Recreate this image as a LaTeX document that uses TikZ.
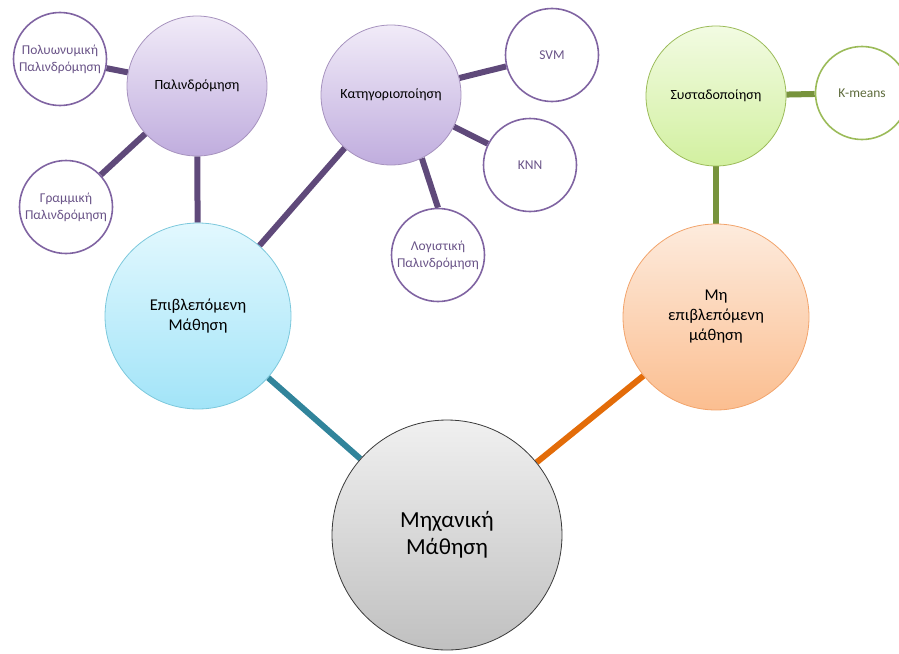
\documentclass[tikz,border=0pt]{standalone}
\usepackage{fontspec}
\setmainfont{Carlito}
\usetikzlibrary{shadings}
\pgfdeclarelayer{background}
\pgfsetlayers{background,main}

% colour scheme of the mind map
\definecolor{purpleline}{HTML}{5F497A}
\definecolor{purpleedge}{HTML}{8064A2}
\definecolor{purpletop}{HTML}{F1EBF8}
\definecolor{purplebot}{HTML}{C0ADDE}
\definecolor{tealline}{HTML}{31849B}
\definecolor{cyanedge}{HTML}{7CC8DC}
\definecolor{cyantop}{HTML}{E2F8FE}
\definecolor{cyanbot}{HTML}{A2E4F8}
\definecolor{orangeline}{HTML}{E36C09}
\definecolor{orangeedge}{HTML}{F2A46C}
\definecolor{orangetop}{HTML}{FDEBDD}
\definecolor{orangebot}{HTML}{FBBE90}
\definecolor{greenline}{HTML}{77933C}
\definecolor{greenedge}{HTML}{9BBB59}
\definecolor{greentop}{HTML}{F2FBE2}
\definecolor{greenbot}{HTML}{D2F0A0}
\definecolor{greytop}{HTML}{F0F0F0}
\definecolor{greybot}{HTML}{C0C0C0}
\definecolor{greyedge}{HTML}{3A3A3A}
\definecolor{leaftext}{HTML}{6A5488}
\definecolor{kmtext}{HTML}{5E6B3C}

\tikzset{
  bubble/.style={circle, align=center, inner sep=0pt, text=black},
  rootbubble/.style={bubble, minimum size=230pt, draw=greyedge, line width=0.8pt,
    top color=greytop, bottom color=greybot, font=\fontsize{23}{27}\selectfont},
  supbubble/.style={bubble, minimum size=186pt, draw=cyanedge, line width=0.8pt,
    top color=cyantop, bottom color=cyanbot, font=\fontsize{16.5}{20}\selectfont},
  unsupbubble/.style={bubble, minimum size=186pt, draw=orangeedge, line width=0.8pt,
    top color=orangetop, bottom color=orangebot, font=\fontsize{16.5}{20}\selectfont},
  catbubble/.style={bubble, minimum size=140pt, draw=purpleedge!70, line width=0.8pt,
    top color=purpletop, bottom color=purplebot, font=\fontsize{14}{17}\selectfont},
  clububble/.style={bubble, minimum size=140pt, draw=greenedge, line width=0.8pt,
    top color=greentop, bottom color=greenbot, font=\fontsize{14}{17}\selectfont},
  leaf/.style={bubble, minimum size=93pt, draw=purpleedge, line width=1.6pt,
    fill=white, text=leaftext, font=\fontsize{13.5}{17}\selectfont},
  kleaf/.style={leaf, draw=greenedge, text=kmtext},
  link/.style={line width=6pt},
}

\begin{document}
\begin{tikzpicture}[x=1pt,y=-1pt]
  \useasboundingbox (0,0) rectangle (899,653);
  \clip (0,0) rectangle (899,653);

  % bubbles
  \node[rootbubble]  (ml)    at (447,535) {Μηχανική\\Μάθηση};
  \node[supbubble]   (sup)   at (198,316) {Επιβλεπόμενη\\Μάθηση};
  \node[unsupbubble] (unsup) at (716,317) {Μη\\επιβλεπόμενη\\μάθηση};
  \node[catbubble]   (reg)   at (197,86)  {Παλινδρόμηση};
  \node[catbubble]   (cls)   at (391,95)  {Κατηγοριοποίηση};
  \node[clububble]   (clu)   at (716,96)  {Συσταδοποίηση};
  \node[leaf]  (poly) at (60,59)   {Πολυωνυμική\\Παλινδρόμηση};
  \node[leaf]  (lin)  at (66,207)  {Γραμμική\\Παλινδρόμηση};
  \node[leaf]  (svm)  at (552,55)  {SVM};
  \node[leaf]  (knn)  at (530,165) {KNN};
  \node[leaf]  (log)  at (438,255) {Λογιστική\\Παλινδρόμηση};
  \node[kleaf] (km)   at (862,93)  {K-means};

  % connectors behind the bubbles
  \begin{pgfonlayer}{background}
    \draw[link, tealline]   (ml) -- (sup);
    \draw[link, orangeline] (ml) -- (unsup);
    \draw[link, purpleline] (sup) -- (reg);
    \draw[link, purpleline] (sup) -- (cls);
    \draw[link, purpleline] (reg) -- (poly);
    \draw[link, purpleline] (reg) -- (lin);
    \draw[link, purpleline] (cls) -- (svm);
    \draw[link, purpleline] (cls) -- (knn);
    \draw[link, purpleline] (cls.-64) -- (log.north);
    \draw[link, greenline]  (unsup) -- (clu);
    \draw[link, greenline]  (clu) -- (km);
  \end{pgfonlayer}
\end{tikzpicture}
\end{document}
